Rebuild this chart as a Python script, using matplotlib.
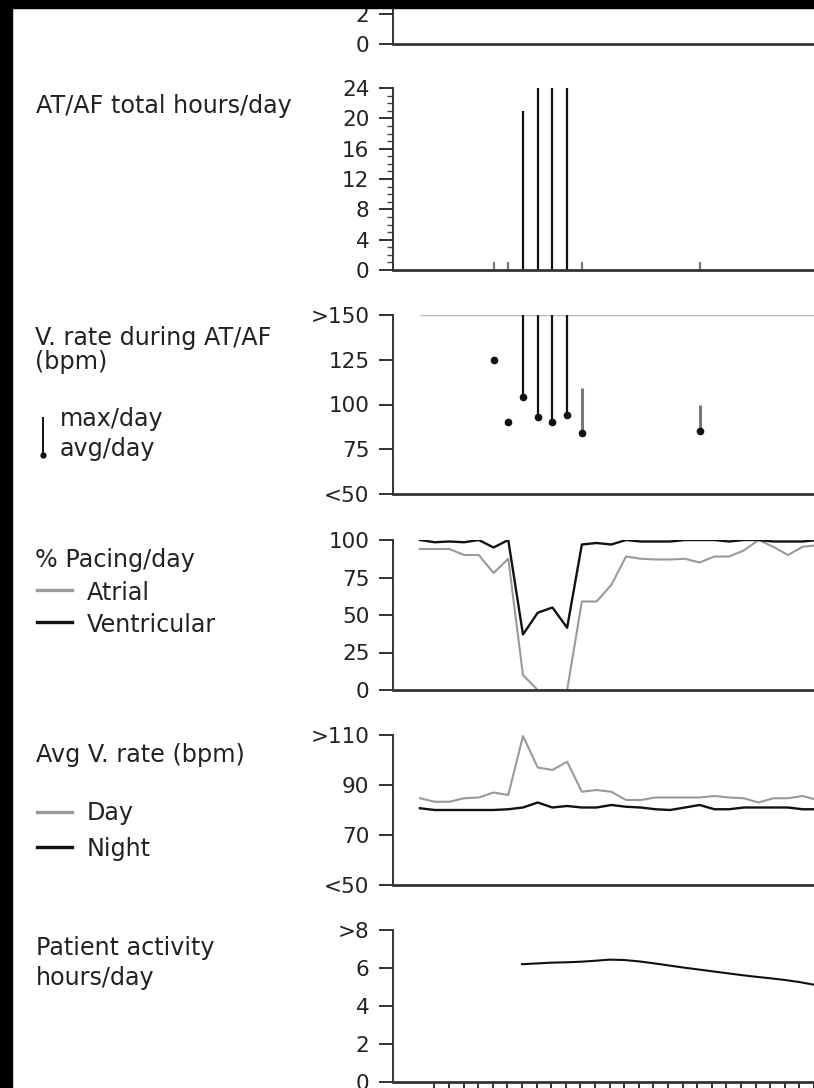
import numpy as np
import matplotlib
matplotlib.use("Agg")
import matplotlib.pyplot as plt
from matplotlib.patches import Rectangle
from matplotlib.lines import Line2D
from matplotlib.ticker import MultipleLocator

plt.rcParams["font.family"] = ["DejaVu Sans"]

# day index along the x axis
days = list(range(0, 28))
tick_days = list(range(1, 28))

# AT/AF total hours/day
ataf_days = [5, 6, 7, 8, 9, 10, 11, 19]
ataf_hours = [1, 1, 21, 24, 24, 24, 1, 1]

# V. rate during AT/AF (bpm), max clipped at >150
vrate_days = [5, 6, 7, 8, 9, 10, 11, 19]
vrate_avg = [125, 90, 104, 93, 90, 94, 84, 85]
vrate_max = [np.nan, np.nan, 150, 150, 150, 150, 109, 100]

# % pacing/day
pacing_atrial = [94, 94, 94, 90, 90, 78, 87.5, 10, 0, 0, 0, 59, 59, 70,
                 89, 87.5, 87, 87, 87.5, 85, 89, 89, 93, 100, 95.5, 90, 95.5, 96.5]
pacing_ventr = [100, 98.5, 99, 98.5, 100, 95, 100, 37, 51.5, 55, 41.5, 97, 98, 97,
                100, 99, 99, 99, 100, 100, 100, 99, 100, 100, 99, 99, 99, 100]

# Avg V. rate (bpm)
rate_day = [84.7, 83.3, 83.3, 84.7, 85, 87, 86, 109.6, 97, 96, 99.3, 87.3, 88, 87.3,
            84, 84, 85, 85, 85, 85, 85.6, 85, 84.7, 83, 84.7, 84.7, 85.6, 84]
rate_night = [80.7, 80, 80, 80, 80, 80, 80.3, 81, 83, 81, 81.6, 81, 81, 82,
              81.3, 81, 80.3, 80, 81, 82, 80.3, 80.3, 81, 81, 81, 81, 80.3, 80.3]

# Patient activity hours/day
activity_days = list(range(7, 28))
activity_hours = [6.20, 6.24, 6.28, 6.30, 6.33, 6.38, 6.44, 6.42, 6.35, 6.25, 6.14,
                  6.03, 5.93, 5.83, 5.73, 5.63, 5.54, 5.46, 5.37, 5.26, 5.12]

W, H = 814, 1088
fig = plt.figure(figsize=(W / 100, H / 100), dpi=100, facecolor="white")

TXT = "#222222"
GRAY = "#9a9a9a"
AX_LEFT = 393
X_LIM = (-1.83, 26.77)


def panel(top, bottom, ylim, yticks, ylabels):
    ax = fig.add_axes([AX_LEFT / W, 1 - bottom / H, 1 - AX_LEFT / W, (bottom - top) / H])
    ax.set_xlim(*X_LIM)
    ax.set_ylim(*ylim)
    for s in ("top", "right"):
        ax.spines[s].set_visible(False)
    ax.spines["left"].set_linewidth(1.4)
    ax.spines["left"].set_color("#333333")
    ax.spines["bottom"].set_linewidth(2.0)
    ax.spines["bottom"].set_color("#333333")
    ax.set_yticks(yticks)
    ax.set_yticklabels(ylabels)
    ax.tick_params(axis="y", length=10, width=1.4, pad=7, labelsize=15.5,
                   colors="#333333", labelcolor=TXT)
    ax.tick_params(axis="x", bottom=False, labelbottom=False)
    ax.set_facecolor("none")
    return ax


def label(x, baseline, s):
    fig.text(x / W, 1 - baseline / H, s, fontsize=17.2, color=TXT, va="baseline", ha="left")


def legend_line(y, color):
    fig.add_artist(Line2D([37 / W, 72 / W], [1 - y / H, 1 - y / H], color=color, lw=2.4))


# top (cut-off) panel
ax0 = panel(-76, 44, (0, 8), [0, 2], ["0", "2"])

# AT/AF total hours/day
ax1 = panel(88, 270, (0, 24), [0, 4, 8, 12, 16, 20, 24],
            ["0", "4", "8", "12", "16", "20", "24"])
ax1.yaxis.set_minor_locator(MultipleLocator(1))
ax1.tick_params(axis="y", which="minor", length=4, width=1.0, colors="#444444")
bar_colors = ["#111111" if h > 2 else "#777777" for h in ataf_hours]
ax1.vlines(ataf_days, 0, ataf_hours, colors=bar_colors, lw=1.6)
label(36, 113, "AT/AF total hours/day")

# V. rate during AT/AF
ax2 = panel(315, 494, (50, 150), [50, 75, 100, 125, 150],
            ["<50", "75", "100", "125", ">150"])
ax2.hlines(150, days[0], days[-1], color="#b5b5b5", lw=1.0)
for d, lo, hi in zip(vrate_days, vrate_avg, vrate_max):
    if not np.isnan(hi):
        c = "#111111" if hi >= 150 else "#777777"
        ax2.vlines(d, lo, hi, color=c, lw=1.6 if hi >= 150 else 2.2)
ax2.plot(vrate_days, vrate_avg, "o", color="#111111", ms=4.5, ls="none")
label(35, 345, "V. rate during AT/AF")
label(35, 369, "(bpm)")
label(60, 426, "max/day")
label(60, 456, "avg/day")
fig.add_artist(Line2D([43 / W, 43 / W], [1 - 418 / H, 1 - 455 / H], color="#111111", lw=1.4))
fig.add_artist(Line2D([43 / W], [1 - 455 / H], marker="o", ms=3.5, color="#111111"))

# % Pacing/day
ax3 = panel(540, 690, (0, 100), [0, 25, 50, 75, 100], ["0", "25", "50", "75", "100"])
ax3.plot(days, pacing_atrial, color=GRAY, lw=1.5)
ax3.plot(days, pacing_ventr, color="#111111", lw=1.7)
label(35, 567, "% Pacing/day")
legend_line(590, GRAY)
label(87, 600, "Atrial")
legend_line(622, "#111111")
label(87, 632, "Ventricular")

# Avg V. rate
ax4 = panel(735, 885, (50, 110), [50, 70, 90, 110], ["<50", "70", "90", ">110"])
ax4.plot(days, rate_day, color=GRAY, lw=1.5)
ax4.plot(days, rate_night, color="#111111", lw=1.7)
label(36, 762, "Avg V. rate (bpm)")
legend_line(812, GRAY)
label(87, 820, "Day")
legend_line(847, "#111111")
label(87, 856, "Night")

# Patient activity
ax5 = panel(930, 1082, (0, 8), [0, 2, 4, 6, 8], ["0", "2", "4", "6", ">8"])
ax5.plot(activity_days, activity_hours, color="#111111", lw=1.5)
ax5.set_xticks(tick_days)
ax5.tick_params(axis="x", bottom=True, labelbottom=False, length=10, width=1.4,
                colors="#333333")
label(36, 955, "Patient activity")
label(36, 985, "hours/day")

# dark scan borders on the left and top
fig.add_artist(Rectangle((0, 0), 12 / W, 1, transform=fig.transFigure,
                         color="black", zorder=100))
fig.add_artist(Rectangle((0, 1 - 8 / H), 1, 8 / H, transform=fig.transFigure,
                         color="black", zorder=100))

fig.savefig("out.png", dpi=100, facecolor="white")
